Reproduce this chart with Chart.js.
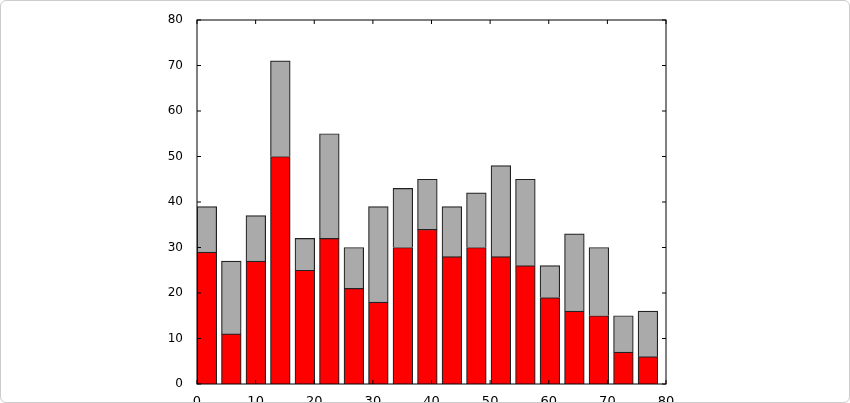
<!DOCTYPE html>
<html><head><script src="https://cdn.jsdelivr.net/npm/chart.js@4"></script>
<style>html,body{margin:0;background:#fff}#w{width:850px;height:403px;position:relative;box-sizing:border-box;border:1px solid #ccc;border-radius:6px}</style>
</head><body><div id="w"><canvas id="c"></canvas></div>
<script>
// left edges of bars (x units)
const lefts = [0,4.18,8.36,12.54,16.72,20.9,25.08,29.26,33.44,37.62,41.8,45.98,50.16,54.34,58.52,62.7,66.88,71.06,75.24];
const redVals = [29,11,27,50,25,32,21,18,30,34,28,30,28,26,19,16,15,7,6];
const totals = [39,27,37,71,32,55,30,39,43,45,39,42,48,45,26,33,30,15,16];
const xTicks = [0,10,20,30,40,50,60,70,80];
const barW = 3.35;
const centers = lefts.map(l=>l+barW/2);

const frame = {id:'frame', afterDraw(ch){const a=ch.chartArea,g=ch.ctx;g.save();g.strokeStyle='#000';g.lineWidth=1;g.strokeRect(a.left,a.top,a.right-a.left,a.bottom-a.top);
  g.beginPath();
  xTicks.forEach(v=>{const x=ch.scales.x.getPixelForValue(v);g.moveTo(x,a.bottom);g.lineTo(x,a.bottom-4);g.moveTo(x,a.top);g.lineTo(x,a.top+4);});
  ch.scales.y.ticks.forEach(t=>{const y=ch.scales.y.getPixelForValue(t.value);g.moveTo(a.left,y);g.lineTo(a.left+4,y);g.moveTo(a.right,y);g.lineTo(a.right-4,y);});
  g.stroke();g.restore();}};

new Chart(document.getElementById('c'),{
  type:'bar',
  data:{datasets:[
    {data:centers.map((x,i)=>({x,y:redVals[i]})),backgroundColor:'#ff0000',borderColor:'#222',borderWidth:1.2,barThickness:19.7},
    {data:centers.map((x,i)=>({x,y:totals[i]-redVals[i]})),backgroundColor:'#aaaaaa',borderColor:'#222',borderWidth:1.2,barThickness:19.7}
  ]},
  options:{responsive:true,maintainAspectRatio:false,animation:false,
    layout:{padding:{left:0,right:183,top:19,bottom:0}},
    plugins:{legend:{display:false},tooltip:{enabled:false}},
    scales:{
      x:{type:'linear',offset:false,stacked:true,min:0,max:80,afterBuildTicks:s=>{s.ticks=xTicks.map(v=>({value:v}));},
        grid:{display:false,offset:false},border:{display:false},
        ticks:{color:'#000',font:{family:'DejaVu Sans',size:13},padding:2,maxRotation:0},
        afterFit:s=>{s.height=18;}},
      y:{stacked:true,min:0,max:80,grid:{display:false},border:{display:false},
        ticks:{stepSize:10,color:'#000',font:{family:'DejaVu Sans',size:12},padding:6},
        afterFit:s=>{s.width=196;}}
    }},
  plugins:[frame]
});
</script></body></html>
